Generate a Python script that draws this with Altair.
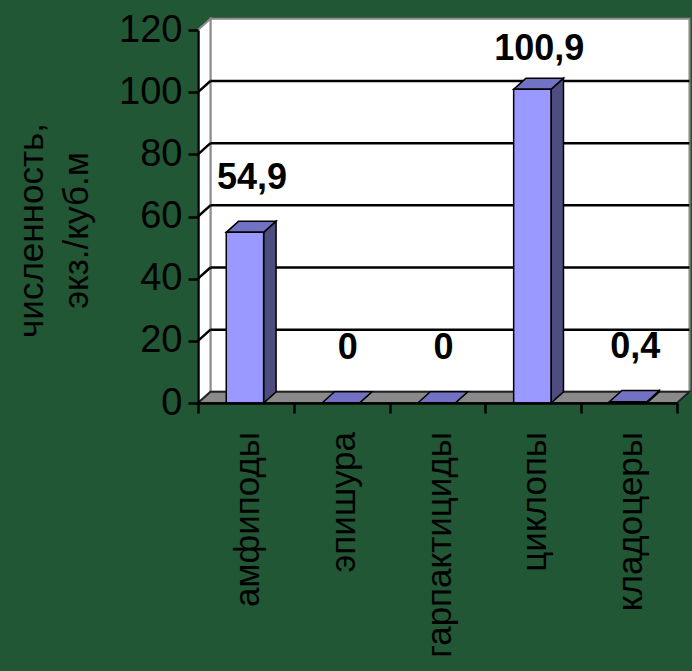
import altair as alt
import pandas as pd

# Zooplankton abundance, individuals per cubic metre
categories = ["амфиподы", "эпишура", "гарпактициды", "циклопы", "кладоцеры"]
values = [54.9, 0, 0, 100.9, 0.4]
y_ticks = [0, 20, 40, 60, 80, 100, 120]
y_title = ["численность,", "экз./куб.м"]

W, H = 479, 373
DX, DY = 0.13, 3.6      # depth of the 3-D walls and bars (x units, y units)
BAR_W = 0.39
FONT = "Liberation Sans"
BG = "#215735"

n = len(categories)
xs = alt.Scale(domain=[0, n], nice=False, zero=False)
ys = alt.Scale(domain=[0, y_ticks[-1]], nice=False, zero=False)

axis_common = dict(
    tickColor="black", tickWidth=2.5, tickSize=10,
    domainColor="black", domainWidth=2.5, grid=False, zindex=1,
)
X_AXIS = alt.Axis(values=list(range(n + 1)), labels=False, title=None, **axis_common)
Y_AXIS = alt.Axis(
    values=y_ticks, title=y_title, titleFont=FONT, titleFontSize=35,
    titleFontWeight="normal", titleColor="black", titleAngle=-90,
    titleX=-156, titleY=200, titleAlign="center", titleBaseline="alphabetic",
    titleLineHeight=45, labelFont=FONT, labelFontSize=38, labelColor="black",
    labelPadding=6, **axis_common,
)


def X(field=None, **kw):
    if field is None:
        return alt.X(scale=xs, axis=X_AXIS, **kw)
    return alt.X(field, scale=xs, axis=X_AXIS, **kw)


def Y(field=None, **kw):
    if field is None:
        return alt.Y(scale=ys, axis=Y_AXIS, **kw)
    return alt.Y(field, scale=ys, axis=Y_AXIS, **kw)


bars = pd.DataFrame({"cat": categories, "value": values, "i": range(n)})
bars["c"] = bars["i"] + 0.49
bars["l"] = bars["c"] - BAR_W / 2
bars["r"] = bars["c"] + BAR_W / 2

# front edge (k=0) and back edge (k=1) of every bar, for the top and side faces
depth = pd.concat([bars.assign(k=k) for k in (0, 1)], ignore_index=True)
depth["top_y"] = depth["value"] + depth["k"] * DY
depth["top_l"] = depth["l"] + depth["k"] * DX
depth["top_r"] = depth["r"] + depth["k"] * DX
depth["side_x"] = depth["r"] + depth["k"] * DX
depth["side_y2"] = depth["k"] * DY

y_max = y_ticks[-1]
back = pd.DataFrame({"x": [DX], "x2": [n + DX], "y": [DY], "y2": [y_max + DY]})
side = pd.DataFrame({"x": [0, DX], "y": [y_max, y_max + DY], "y2": [0, DY]})
floor = pd.DataFrame({"y": [0, DY], "x": [0, DX], "x2": [n, n + DX]})
grid = pd.DataFrame({"t": y_ticks[1:-1]})
grid["tb"] = grid["t"] + DY

back_wall = alt.Chart(back).mark_rect(fill="white", stroke="#8c8c8c", strokeWidth=2).encode(
    x=X("x:Q"), x2="x2:Q", y=Y("y:Q"), y2="y2:Q",
)

side_wall = alt.Chart(side).mark_area(fill="white", stroke="#8c8c8c", strokeWidth=2).encode(
    x=X("x:Q"), y=Y("y:Q"), y2="y2:Q",
)

floor_face = alt.Chart(floor).mark_area(
    orient="horizontal", fill="#8a8a8a", stroke="#222222", strokeWidth=2
).encode(
    y=Y("y:Q"), x=X("x:Q"), x2="x2:Q",
)

grid_back = alt.Chart(grid).mark_rule(color="black", strokeWidth=2.5).encode(
    x=X(datum=DX), x2=alt.X2(datum=n + DX), y=Y("tb:Q"),
)

grid_side = alt.Chart(grid).mark_rule(color="black", strokeWidth=2.5).encode(
    x=X(datum=0), x2=alt.X2(datum=DX), y=Y("t:Q"), y2="tb:Q",
)

bar_side = alt.Chart(depth).mark_area(fill="#4d4d80", stroke="black", strokeWidth=1.5).encode(
    x=X("side_x:Q"), y=Y("top_y:Q"), y2="side_y2:Q", detail="cat:N",
)

bar_top = alt.Chart(depth).mark_area(
    orient="horizontal", fill="#7272c4", stroke="black", strokeWidth=1.5
).encode(
    y=Y("top_y:Q"), x=X("top_l:Q"), x2="top_r:Q", detail="cat:N",
)

bar_front = alt.Chart(bars).mark_rect(fill="#9999ff", stroke="black", strokeWidth=1.5).encode(
    x=X("l:Q"), x2="r:Q", y=Y("value:Q"), y2=alt.Y2(datum=0),
)

value_labels = alt.Chart(bars).transform_calculate(
    label="replace(toString(datum.value), '.', ',')",
    ly="min(datum.value + 14, 110.5)",
).mark_text(
    font=FONT, fontSize=36, fontWeight="bold", color="black",
    baseline="alphabetic", align="center", xOffset=7,
).encode(
    x=X("c:Q"), y=Y("ly:Q"), text="label:N",
)

cat_labels = alt.Chart(bars).mark_text(
    font=FONT, fontSize=35, color="black", angle=270,
    align="right", baseline="middle", xOffset=3,
).encode(
    x=X("c:Q"), y=alt.value(H + 29), text="cat:N",
)

chart = alt.layer(
    back_wall, side_wall, floor_face, grid_back, grid_side,
    bar_side, bar_top, bar_front, value_labels, cat_labels,
).properties(
    width=W, height=H,
    padding={"left": 198, "top": 30, "right": 15, "bottom": 268},
    autosize=alt.AutoSizeParams(type="none"),
    background=BG,
).configure_view(stroke=None)

chart.save("out.html", embed_options={"renderer": "svg", "actions": False})
